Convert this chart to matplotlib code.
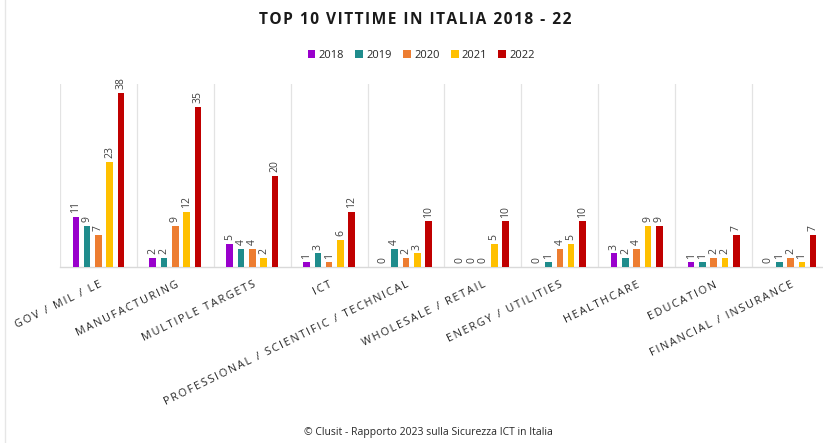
import numpy as np
import matplotlib.pyplot as plt
from matplotlib.lines import Line2D

plt.rcParams['font.family'] = ['Open Sans', 'DejaVu Sans']

categories = ['GOV / MIL / LE', 'MANUFACTURING', 'MULTIPLE TARGETS', 'ICT',
              'PROFESSIONAL / SCIENTIFIC / TECHNICAL', 'WHOLESALE / RETAIL',
              'ENERGY / UTILITIES', 'HEALTHCARE', 'EDUCATION',
              'FINANCIAL / INSURANCE']
years = ['2018', '2019', '2020', '2021', '2022']
v2018 = [11, 2, 5, 1, 0, 0, 0, 3, 1, 0]
v2019 = [9, 2, 4, 3, 4, 0, 1, 2, 1, 1]
v2020 = [7, 9, 4, 1, 2, 0, 4, 4, 2, 2]
v2021 = [23, 12, 2, 6, 3, 5, 5, 9, 2, 1]
v2022 = [38, 35, 20, 12, 10, 10, 10, 9, 7, 7]
series = [v2018, v2019, v2020, v2021, v2022]
colors = ['#9900CC', '#1F8C8C', '#ED7D31', '#FFC000', '#C00000']


def spaced(s, sep='\u2009'):
    # widen the tracking of a label by putting a thin space between letters
    return sep.join(s)


W, H = 823, 443
fig = plt.figure(figsize=(W / 100, H / 100), dpi=100)
# axes placed in pixel terms: left 60, right 829, bottom 267, top 84
ax = fig.add_axes([60 / W, (H - 267) / H, 769 / W, 183 / H])

x = np.arange(len(categories))
bw = 0.085
step = 0.147
for i, (yr, vals, c) in enumerate(zip(years, series, colors)):
    pos = x + (i - 2) * step
    ax.bar(pos, vals, width=bw, color=c, label=yr, zorder=3)
    for px, v in zip(pos, vals):
        ax.text(px, v + 0.8, str(v), rotation=90, ha='center', va='bottom',
                fontsize=7.5, color='#404040')

ax.set_xlim(-0.5, len(categories) - 0.5)
ax.set_ylim(0, 40)
ax.set_yticks([])
for b in np.arange(0.5, len(categories) - 0.5, 1):
    ax.axvline(b, color='#E3E3E3', lw=0.9, zorder=1)
ax.axvline(-0.5, color='#E3E3E3', lw=0.9, zorder=1)
for s in ['top', 'right', 'left']:
    ax.spines[s].set_visible(False)
ax.spines['bottom'].set_color('#D9D9D9')
ax.spines['bottom'].set_linewidth(1.0)

ax.set_xticks(x)
ax.set_xticklabels([spaced(c) for c in categories], rotation=26, ha='right',
                   rotation_mode='anchor', fontsize=7.8, color='#262626')
ax.tick_params(axis='x', length=0, pad=9)

fig.text(0.505, 1 - 20 / H, spaced('TOP 10 VITTIME IN ITALIA 2018 - 22', '\u200a'),
         ha='center', va='center', fontsize=11.2, fontweight='bold', color='#1A1A1A')
fig.legend(loc='center', bbox_to_anchor=(0.512, 1 - 55 / H), ncol=5,
           frameon=False, fontsize=8, handlelength=0.7, handleheight=0.7,
           handletextpad=0.3, columnspacing=1.0, labelcolor='#262626')
fig.text(0.52, 1 - 432 / H, '\u00a9 Clusit - Rapporto 2023 sulla Sicurezza ICT in Italia',
         ha='center', va='center', fontsize=7.5, color='#262626')

fig.add_artist(Line2D([5 / W, 5 / W], [0, 1], color='#E6E6E6', lw=1))

fig.savefig('out.png', dpi=100)
